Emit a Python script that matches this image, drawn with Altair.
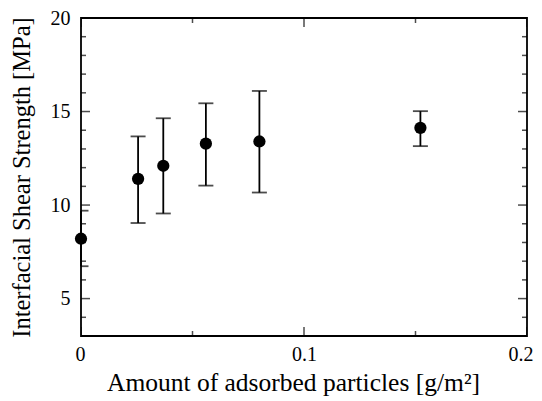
import altair as alt
import pandas as pd

amount = [0.0, 0.0256, 0.0369, 0.056, 0.080, 0.1522]
strength = [8.2, 11.4, 12.1, 13.28, 13.4, 14.13]
err_hi = [9.7, 13.67, 14.64, 15.44, 16.1, 15.02]
err_lo = [6.73, 9.04, 9.55, 11.04, 10.67, 13.15]

x_major = [0.0, 0.1, 0.2]
x_minor = [0.05, 0.15]
y_major = [5, 10, 15, 20]
y_minor = [4, 6, 7, 8, 9, 11, 12, 13, 14, 16, 17, 18, 19]

XMIN, XMAX = 0.0, 0.2
YMIN, YMAX = 3, 20
FONT = "Liberation Serif, Times New Roman, DejaVu Serif, serif"

df = pd.DataFrame({"x": amount, "y": strength, "hi": err_hi, "lo": err_lo})

xs = alt.Scale(domain=[XMIN, XMAX], nice=False, zero=False)
ys = alt.Scale(domain=[YMIN, YMAX], nice=False, zero=False)

xaxis = alt.Axis(values=x_major, format="~g", title="Amount of adsorbed particles [g/m²]",
                 ticks=False, domain=False, grid=False, labelPadding=8, labelFontSize=20,
                 titleFontSize=25.5, titlePadding=6, labelColor="black", titleColor="black",
                 titleFontWeight="normal", labelFlush=True, labelFlushOffset=6, titleX=212)
yaxis = alt.Axis(values=y_major, title="Interfacial Shear Strength [MPa]",
                 ticks=False, domain=False, grid=False, labelPadding=11, labelFontSize=20,
                 titleFontSize=24.5, titlePadding=16, labelColor="black", titleColor="black",
                 titleFontWeight="normal", labelFlush=False)

base = alt.Chart(df)

bars = base.mark_rule(color="black", strokeWidth=1.8).encode(
    x=alt.X("x:Q", scale=xs, axis=xaxis),
    y=alt.Y("lo:Q", scale=ys, axis=yaxis),
    y2="hi:Q",
)
cap_hi = base.mark_tick(color="black", thickness=1.8, size=15, orient="horizontal", clip=True).encode(
    x=alt.X("x:Q", scale=xs), y=alt.Y("hi:Q", scale=ys))
cap_lo = base.mark_tick(color="black", thickness=1.8, size=15, orient="horizontal", clip=True).encode(
    x=alt.X("x:Q", scale=xs), y=alt.Y("lo:Q", scale=ys))
pts = base.mark_point(filled=True, color="black", opacity=1, size=150, shape="circle").encode(
    x=alt.X("x:Q", scale=xs), y=alt.Y("y:Q", scale=ys))

def xticks(vals, yval, size):
    d = pd.DataFrame({"v": vals, "e": [yval] * len(vals)})
    return alt.Chart(d).mark_tick(color="black", thickness=1.5, size=size, orient="vertical", clip=True).encode(
        x=alt.X("v:Q", scale=xs), y=alt.Y("e:Q", scale=ys))

def yticks(vals, xval, size):
    d = pd.DataFrame({"v": vals, "e": [xval] * len(vals)})
    return alt.Chart(d).mark_tick(color="black", thickness=1.5, size=size, orient="horizontal", clip=True).encode(
        x=alt.X("e:Q", scale=xs), y=alt.Y("v:Q", scale=ys))

MAJ, MIN = 18, 10
ticks = [
    xticks(x_major, YMIN, MAJ), xticks(x_minor, YMIN, MIN),
    xticks(x_major, YMAX, MAJ), xticks(x_minor, YMAX, MIN),
    yticks(y_major, XMIN, MAJ), yticks(y_minor, XMIN, MIN),
    yticks(y_major, XMAX, MAJ), yticks(y_minor, XMAX, MIN),
]

chart = alt.layer(*ticks, bars, cap_hi, cap_lo, pts).properties(
    width=446, height=318,
    autosize=alt.AutoSizeParams(type="none"),
    padding={"left": 73, "top": 10, "right": 7, "bottom": 62},
    background="white",
).configure_view(stroke="black", strokeWidth=1.8).configure_axis(
    labelFont=FONT, titleFont=FONT
)

chart.save("out.html", embed_options={"renderer": "svg", "actions": False})
